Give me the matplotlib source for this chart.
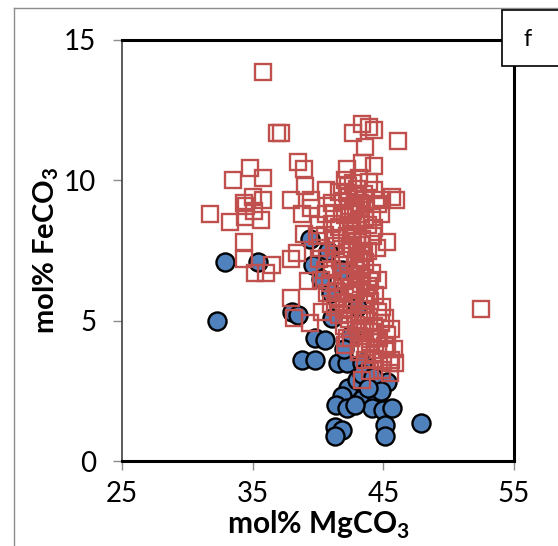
import matplotlib
matplotlib.use("Agg")
import matplotlib.pyplot as plt
from matplotlib.patches import Rectangle
from matplotlib.lines import Line2D

plt.rcParams['font.family'] = ['Lato', 'DejaVu Sans']
plt.rcParams['mathtext.fontset'] = 'custom'
plt.rcParams['mathtext.rm'] = 'Lato'
plt.rcParams['mathtext.bf'] = 'Lato:bold'

# Blue circles (mol% MgCO3, mol% FeCO3)
blue_x = [32.3, 32.9, 35.4, 39.4, 39.6, 40.2, 41.0, 38.0, 38.5, 39.8, 40.5, 41.1,
          38.8, 39.8, 41.5, 42.2, 43.4, 45.3, 42.3, 41.8, 41.4, 42.2, 43.4, 44.5,
          44.1, 45.0, 45.7, 41.3, 41.8, 41.3, 45.1, 45.1, 47.9, 43.0, 43.4, 42.5,
          43.0, 41.8, 40.8, 42.0, 44.2, 44.8, 43.8, 42.8]
blue_y = [5.0, 7.1, 7.1, 7.9, 7.0, 6.5, 6.0, 5.3, 5.2, 4.4, 4.3, 5.1,
          3.6, 3.6, 3.5, 3.5, 3.5, 2.8, 2.6, 2.3, 2.0, 1.9, 2.2, 2.2,
          1.9, 1.8, 1.9, 1.2, 1.1, 0.9, 1.3, 0.9, 1.35, 2.9, 3.1, 4.5,
          5.5, 6.8, 7.5, 4.0, 3.0, 2.5, 2.6, 2.0]

# Red open squares
red_x = [35.8, 36.9, 37.2, 52.5, 42.7, 43.4, 43.9, 44.3, 46.1, 43.6,
         38.5, 38.9, 33.5, 34.8, 35.8, 37.9, 39.0, 39.5, 40.6,
         31.7, 33.3, 34.3, 34.5, 35.8, 35.1, 34.4, 35.0, 34.3, 35.6,
         36.5, 36.0, 35.2, 34.3, 37.9, 38.4, 38.8, 39.5, 38.9,
         45.3, 44.8, 44.9, 45.7, 42.2, 43.4, 44.3, 46.0,
         37.9, 38.2, 39.4, 40.3, 41.3, 42.2, 43.4, 45.5, 45.9, 44.7, 45.3, 43.1,
         42.1, 42.7, 43.1, 43.9,
         41.6, 42.2, 43.0, 43.5, 44.3,
         41.1, 41.9, 42.4, 43.2, 43.6, 44.6,
         40.6, 41.2, 42.1, 42.7, 43.2, 44.1,
         40.1, 41.1, 41.6, 42.5, 42.9, 43.8, 44.3,
         39.9, 40.5, 41.3, 42.2, 42.7, 43.4, 44.2,
         40.2, 41.2, 41.8, 42.6, 43.3, 43.8, 44.5,
         40.1, 40.7, 41.7, 42.2, 43.1, 43.6,
         40.5, 41.1, 42.0, 42.8, 43.3, 44.1,
         39.2, 40.2, 40.9, 41.9, 42.4, 43.3, 44.0, 44.6,
         40.7, 41.4, 42.4, 42.9, 43.9, 44.4,
         41.0, 42.0, 42.6, 43.5, 44.0, 44.9,
         41.6, 42.2, 43.1, 43.7, 44.6, 45.1,
         42.0, 42.9, 43.4, 44.3, 44.8, 45.6,
         42.5, 43.1, 44.0, 44.5, 45.3,
         43.1, 43.7, 44.6, 45.1, 45.8,
         43.6, 44.2, 45.0, 45.6,
         44.0, 44.9, 45.5,
         42.4, 42.9, 43.3, 42.6, 43.0, 43.5, 42.8, 43.2, 42.5, 43.7,
         42.3, 42.8, 43.1, 43.6, 42.6, 43.0, 43.4, 42.9, 43.3, 43.8,
         41.5, 42.0, 42.4, 43.9, 44.2, 43.6, 44.0, 44.4, 42.1, 41.8]
red_y = [13.85, 11.7, 11.7, 5.4, 11.7, 12.0, 11.9, 11.8, 11.4, 11.2,
         10.65, 10.4, 10.0, 10.45, 10.1, 9.3, 9.8, 9.3, 9.65,
         8.8, 8.5, 7.8, 9.1, 9.3, 8.9, 8.7, 9.4, 9.2, 8.6,
         7.0, 6.7, 6.7, 7.2, 7.2, 7.4, 8.8, 9.0, 8.1,
         7.8, 8.8, 9.3, 9.4, 10.4, 10.6, 10.5, 9.3,
         5.8, 5.1, 4.9, 5.3, 5.5, 4.4, 2.9, 3.5, 3.5, 4.4, 4.0, 3.9,
         10.0, 9.9, 10.1, 9.95,
         9.6, 9.55, 9.7, 9.5, 9.65,
         9.2, 9.25, 9.1, 9.2, 9.3, 9.15,
         8.8, 8.85, 8.75, 8.9, 8.8, 8.7,
         8.4, 8.45, 8.35, 8.4, 8.5, 8.4, 8.3,
         8.0, 8.05, 7.95, 8.0, 8.1, 7.9, 8.0,
         7.6, 7.65, 7.55, 7.6, 7.7, 7.5, 7.6,
         7.2, 7.25, 7.15, 7.3, 7.2, 7.1,
         6.8, 6.85, 6.75, 6.8, 6.9, 6.7,
         6.4, 6.45, 6.35, 6.4, 6.5, 6.3, 6.4, 6.45,
         6.0, 6.05, 5.95, 6.1, 6.0, 5.9,
         5.6, 5.65, 5.55, 5.6, 5.7, 5.5,
         5.2, 5.25, 5.15, 5.2, 5.3, 5.1,
         4.8, 4.85, 4.75, 4.8, 4.9, 4.7,
         4.4, 4.45, 4.35, 4.4, 4.5,
         4.0, 4.05, 3.95, 4.1, 4.0,
         3.6, 3.65, 3.55, 3.6,
         3.2, 3.25, 3.15,
         9.4, 9.0, 8.6, 8.2, 7.8, 7.4, 7.0, 6.6, 6.2, 5.8,
         9.8, 9.45, 9.05, 8.65, 8.25, 7.85, 7.45, 7.05, 6.65, 6.25,
         5.85, 5.45, 5.05, 5.0, 4.6, 4.65, 4.25, 3.85, 4.15, 6.6]

x_ticks = [25, 35, 45, 55]
y_ticks = [0, 5, 10, 15]

W, H = 558, 546
fig = plt.figure(figsize=(W / 100, H / 100), dpi=100)

# outer chart border (partially visible)
fig.add_artist(Line2D([14 / W, 14 / W], [0, 1 - 8 / H], transform=fig.transFigure,
                      color='#8c8c8c', lw=1.0))
fig.add_artist(Line2D([14 / W, 1], [1 - 8 / H, 1 - 8 / H], transform=fig.transFigure,
                      color='#8c8c8c', lw=1.0))

ax = fig.add_axes([122 / W, 1 - 461 / H, 392 / W, 421 / H])
ax.plot(blue_x, blue_y, 'o', ms=13, mfc='#4F81BD', mec='black', mew=1.7, zorder=3,
        clip_on=False)
ax.plot(red_x, red_y, 's', ms=12, mfc='none', mec='#C0504D', mew=1.7, zorder=4,
        clip_on=False)

ax.set_xlim(25, 55)
ax.set_ylim(0, 15)
ax.set_xticks(x_ticks)
ax.set_yticks(y_ticks)
ax.tick_params(direction='out', length=6.5, width=1, color='#8c8c8c', labelsize=20)
ax.tick_params(axis='x', pad=8)
ax.tick_params(axis='y', pad=12)
for s in ['top', 'right', 'bottom']:
    ax.spines[s].set_linewidth(2.2)
    ax.spines[s].set_color('black')
ax.spines['left'].set_linewidth(1.2)
ax.spines['left'].set_color('#404040')

ax.set_xlabel('mol% MgCO$_\\mathbf{3}$', fontsize=21.5, fontweight='bold', labelpad=1)
ax.set_ylabel('mol% FeCO$_\\mathbf{3}$', fontsize=21, fontweight='bold', labelpad=2)

# "f" label box
fig.add_artist(Rectangle((502 / W, 1 - 66 / H), 60 / W, 56 / H, transform=fig.transFigure,
                         facecolor='white', edgecolor='black', lw=1.2, zorder=10))
fig.text(528 / W, 1 - 40 / H, 'f', fontsize=17, ha='center', va='center', zorder=11)

fig.savefig('out.png', dpi=100)
